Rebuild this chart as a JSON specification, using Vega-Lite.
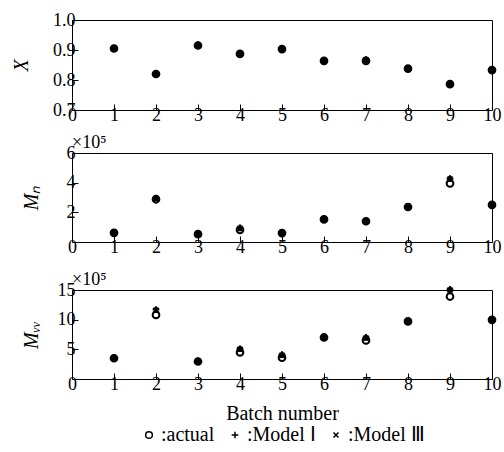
{
  "$schema": "https://vega.github.io/schema/vega-lite/v6.json",
  "padding": {"top": 10, "left": 11, "right": 6, "bottom": 0},
  "data": {"values": [
    {"batch":1,"var":"X","series":"actual","value":0.905},{"batch":1,"var":"X","series":"Model I","value":0.906},{"batch":1,"var":"X","series":"Model III","value":0.905},
    {"batch":2,"var":"X","series":"actual","value":0.820},{"batch":2,"var":"X","series":"Model I","value":0.821},{"batch":2,"var":"X","series":"Model III","value":0.820},
    {"batch":3,"var":"X","series":"actual","value":0.915},{"batch":3,"var":"X","series":"Model I","value":0.917},{"batch":3,"var":"X","series":"Model III","value":0.916},
    {"batch":4,"var":"X","series":"actual","value":0.887},{"batch":4,"var":"X","series":"Model I","value":0.889},{"batch":4,"var":"X","series":"Model III","value":0.888},
    {"batch":5,"var":"X","series":"actual","value":0.903},{"batch":5,"var":"X","series":"Model I","value":0.904},{"batch":5,"var":"X","series":"Model III","value":0.903},
    {"batch":6,"var":"X","series":"actual","value":0.864},{"batch":6,"var":"X","series":"Model I","value":0.865},{"batch":6,"var":"X","series":"Model III","value":0.864},
    {"batch":7,"var":"X","series":"actual","value":0.864},{"batch":7,"var":"X","series":"Model I","value":0.868},{"batch":7,"var":"X","series":"Model III","value":0.867},
    {"batch":8,"var":"X","series":"actual","value":0.838},{"batch":8,"var":"X","series":"Model I","value":0.839},{"batch":8,"var":"X","series":"Model III","value":0.838},
    {"batch":9,"var":"X","series":"actual","value":0.786},{"batch":9,"var":"X","series":"Model I","value":0.787},{"batch":9,"var":"X","series":"Model III","value":0.786},
    {"batch":10,"var":"X","series":"actual","value":0.833},{"batch":10,"var":"X","series":"Model I","value":0.834},{"batch":10,"var":"X","series":"Model III","value":0.833},
    {"batch":1,"var":"Mn","series":"actual","value":0.62},{"batch":1,"var":"Mn","series":"Model I","value":0.65},{"batch":1,"var":"Mn","series":"Model III","value":0.63},
    {"batch":2,"var":"Mn","series":"actual","value":2.88},{"batch":2,"var":"Mn","series":"Model I","value":2.96},{"batch":2,"var":"Mn","series":"Model III","value":2.95},
    {"batch":3,"var":"Mn","series":"actual","value":0.53},{"batch":3,"var":"Mn","series":"Model I","value":0.55},{"batch":3,"var":"Mn","series":"Model III","value":0.53},
    {"batch":4,"var":"Mn","series":"actual","value":0.82},{"batch":4,"var":"Mn","series":"Model I","value":0.95},{"batch":4,"var":"Mn","series":"Model III","value":0.92},
    {"batch":5,"var":"Mn","series":"actual","value":0.60},{"batch":5,"var":"Mn","series":"Model I","value":0.62},{"batch":5,"var":"Mn","series":"Model III","value":0.62},
    {"batch":6,"var":"Mn","series":"actual","value":1.52},{"batch":6,"var":"Mn","series":"Model I","value":1.55},{"batch":6,"var":"Mn","series":"Model III","value":1.55},
    {"batch":7,"var":"Mn","series":"actual","value":1.40},{"batch":7,"var":"Mn","series":"Model I","value":1.45},{"batch":7,"var":"Mn","series":"Model III","value":1.42},
    {"batch":8,"var":"Mn","series":"actual","value":2.36},{"batch":8,"var":"Mn","series":"Model I","value":2.40},{"batch":8,"var":"Mn","series":"Model III","value":2.40},
    {"batch":9,"var":"Mn","series":"actual","value":3.95},{"batch":9,"var":"Mn","series":"Model I","value":4.27},{"batch":9,"var":"Mn","series":"Model III","value":4.25},
    {"batch":10,"var":"Mn","series":"actual","value":2.50},{"batch":10,"var":"Mn","series":"Model I","value":2.52},{"batch":10,"var":"Mn","series":"Model III","value":2.52},
    {"batch":1,"var":"Mw","series":"actual","value":3.5},{"batch":1,"var":"Mw","series":"Model I","value":3.6},{"batch":1,"var":"Mw","series":"Model III","value":3.6},
    {"batch":2,"var":"Mw","series":"actual","value":10.8},{"batch":2,"var":"Mw","series":"Model I","value":11.7},{"batch":2,"var":"Mw","series":"Model III","value":11.6},
    {"batch":3,"var":"Mw","series":"actual","value":2.95},{"batch":3,"var":"Mw","series":"Model I","value":3.0},{"batch":3,"var":"Mw","series":"Model III","value":2.95},
    {"batch":4,"var":"Mw","series":"actual","value":4.5},{"batch":4,"var":"Mw","series":"Model I","value":5.1},{"batch":4,"var":"Mw","series":"Model III","value":5.0},
    {"batch":5,"var":"Mw","series":"actual","value":3.6},{"batch":5,"var":"Mw","series":"Model I","value":4.1},{"batch":5,"var":"Mw","series":"Model III","value":4.0},
    {"batch":6,"var":"Mw","series":"actual","value":7.0},{"batch":6,"var":"Mw","series":"Model I","value":7.1},{"batch":6,"var":"Mw","series":"Model III","value":7.05},
    {"batch":7,"var":"Mw","series":"actual","value":6.5},{"batch":7,"var":"Mw","series":"Model I","value":7.0},{"batch":7,"var":"Mw","series":"Model III","value":6.9},
    {"batch":8,"var":"Mw","series":"actual","value":9.7},{"batch":8,"var":"Mw","series":"Model I","value":9.8},{"batch":8,"var":"Mw","series":"Model III","value":9.75},
    {"batch":9,"var":"Mw","series":"actual","value":13.9},{"batch":9,"var":"Mw","series":"Model I","value":15.1},{"batch":9,"var":"Mw","series":"Model III","value":15.0},
    {"batch":10,"var":"Mw","series":"actual","value":9.97},{"batch":10,"var":"Mw","series":"Model I","value":10.0},{"batch":10,"var":"Mw","series":"Model III","value":10.0}
  ]},
  "config": {
    "font": "'Liberation Serif', 'Times New Roman', serif",
    "view": {"stroke": "black", "strokeWidth": 1},
    "axis": {
      "labelFont": "'Liberation Serif', 'Times New Roman', serif", "labelFontSize": 18, "labelColor": "black",
      "titleFont": "'Liberation Serif', 'Times New Roman', serif", "titleFontSize": 20, "titleFontWeight": "normal", "titleColor": "black",
      "domain": false, "grid": false, "tickColor": "black", "tickSize": -6, "tickWidth": 1,
      "labelOverlap": false, "labelFlush": false, "labelBound": false
    },
    "legend": {
      "labelFont": "'Liberation Serif', 'Times New Roman', serif", "labelFontSize": 20, "labelColor": "black",
      "layout": {"bottom": {"anchor": "middle"}}
    },
    "title": {"font": "'Liberation Serif', 'Times New Roman', serif", "fontSize": 18, "fontWeight": "normal", "color": "black", "anchor": "start", "frame": "group", "offset": -8}
  },
  "spacing": 8,
  "resolve": {"scale": {"shape": "shared"}},
  "vconcat": [
    {
      "width": 420, "height": 90,
      "transform": [{"filter": "datum.var === 'X'"}],
      "mark": {"type": "point", "filled": false, "stroke": "black", "strokeWidth": 2, "size": 45, "opacity": 1},
      "encoding": {
        "x": {"field": "batch", "type": "quantitative", "scale": {"domain": [0, 10], "nice": false},
              "axis": {"values": [0,1,2,3,4,5,6,7,8,9,10], "title": null, "labelPadding": 2}},
        "y": {"field": "value", "type": "quantitative", "scale": {"domain": [0.7, 1.0], "nice": false, "zero": false},
              "axis": {"values": [0.7, 0.8, 0.9, 1.0], "format": ".1f", "title": "X", "titleFontStyle": "italic", "labelPadding": 3, "titlePadding": 21}},
        "shape": {"field": "series", "type": "nominal",
                  "scale": {"domain": ["actual", "Model I", "Model III"], "range": ["circle", "M-1,0H1M0,-1V1", "M-0.75,-0.75L0.75,0.75M-0.75,0.75L0.75,-0.75"]},
                  "legend": {"orient": "bottom", "direction": "horizontal", "title": null, "offset": 1, "gridAlign": "none", "symbolStrokeColor": "black", "symbolStrokeWidth": 1.5, "symbolSize": 45, "columnPadding": 10, "labelOffset": 2,
                             "labelExpr": "datum.label === 'actual' ? ':actual' : datum.label === 'Model I' ? ':Model Ⅰ' : ':Model Ⅲ'"}}
      }
    },
    {
      "spacing": 13,
      "resolve": {"scale": {"shape": "shared"}},
      "vconcat": [
        {
          "width": 420, "height": 89,
          "title": {"text": "×10⁵"},
          "transform": [{"filter": "datum.var === 'Mn'"}],
          "mark": {"type": "point", "filled": false, "stroke": "black", "strokeWidth": 2, "size": 45, "opacity": 1},
          "encoding": {
            "x": {"field": "batch", "type": "quantitative", "scale": {"domain": [0, 10], "nice": false},
                  "axis": {"values": [0,1,2,3,4,5,6,7,8,9,10], "title": null, "labelPadding": 2}},
            "y": {"field": "value", "type": "quantitative", "scale": {"domain": [0, 6], "nice": false},
                  "axis": {"values": [2, 4, 6], "title": "Mₙ", "titleFontStyle": "italic", "labelPadding": 3, "titlePadding": 25}},
            "shape": {"field": "series", "type": "nominal"}
          }
        },
        {
          "width": 420, "height": 89,
          "title": {"text": "×10⁵"},
          "transform": [{"filter": "datum.var === 'Mw'"}],
          "mark": {"type": "point", "filled": false, "stroke": "black", "strokeWidth": 2, "size": 45, "opacity": 1},
          "encoding": {
            "x": {"field": "batch", "type": "quantitative", "scale": {"domain": [0, 10], "nice": false},
                  "axis": {"values": [0,1,2,3,4,5,6,7,8,9,10], "title": "Batch number", "labelPadding": 2, "titlePadding": 10}},
            "y": {"field": "value", "type": "quantitative", "scale": {"domain": [0, 15], "nice": false},
                  "axis": {"values": [5, 10, 15], "title": "Mᵥᵥ", "titleFontStyle": "italic", "labelPadding": 3, "titlePadding": 16}},
            "shape": {"field": "series", "type": "nominal"}
          }
        }
      ]
    }
  ]
}
